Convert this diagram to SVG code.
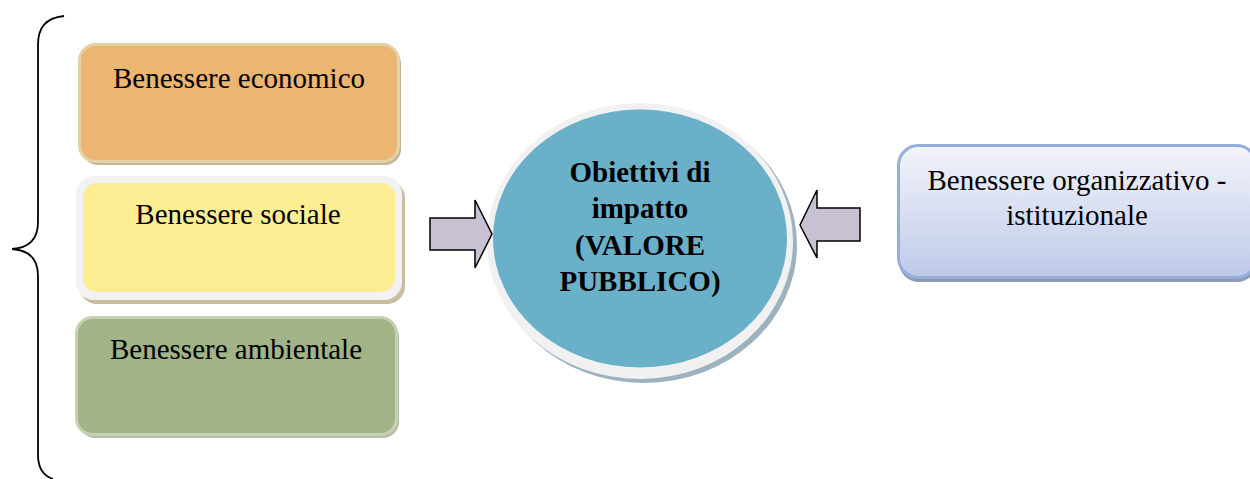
<svg xmlns="http://www.w3.org/2000/svg" width="1250" height="479" viewBox="0 0 1250 479" font-family="'Liberation Serif', 'Times New Roman', serif">
<defs>
<linearGradient id="gBlue" x1="0" y1="0" x2="0" y2="1">
<stop offset="0" stop-color="#F3F4FB"/>
<stop offset="1" stop-color="#BFCAE9"/>
</linearGradient>
</defs>
<style>
text{font-family:'Liberation Serif','Times New Roman',serif;font-size:29px;fill:#000;text-anchor:middle}
.b{font-weight:bold}
.arrow{fill:#C8C1D3;stroke:#000;stroke-width:1.5;stroke-linejoin:miter}
</style>
<rect width="1250" height="479" fill="#fff"/>
<g id="brace">
<path d="M64,16 C45,18 38,28 38,45 L38,222 C38,240 28,248 12,249 C28,250 38,258 38,276 L38,455 C38,468 44,476 53,479" fill="none" stroke="#000" stroke-width="1.8"/>
</g>
<g id="node-economico">
<rect x="82" y="48" width="319" height="117" rx="16" fill="#C4B597"/>
<rect x="79.5" y="44.5" width="319" height="117" rx="16" fill="#EBB572" stroke="#E3D2A6" stroke-width="3"/>
<text x="239" y="88">Benessere economico</text>
</g>
<g id="node-sociale">
<rect x="79" y="180" width="326" height="124" rx="18" fill="#C9BD9E"/>
<rect x="76" y="176" width="326" height="124" rx="18" fill="#F2F2F2"/>
<rect x="83" y="183" width="312" height="109" rx="14" fill="#FDEE94"/>
<text x="238" y="224">Benessere sociale</text>
</g>
<g id="node-ambientale">
<rect x="79" y="321" width="320" height="117" rx="16" fill="#B8BFA8"/>
<rect x="76.5" y="317.5" width="320" height="117" rx="16" fill="#A1B387" stroke="#C6D0B3" stroke-width="3"/>
<text x="236" y="359">Benessere ambientale</text>
</g>
<g id="node-valore">
<ellipse cx="644" cy="245" rx="153" ry="138" fill="#9DB2BF"/>
<ellipse cx="640" cy="241" rx="153" ry="138" fill="#F1F1F1"/>
<ellipse cx="640" cy="238.5" rx="147" ry="129" fill="#6AB0C9"/>
<text class="b" x="640" y="182">Obiettivi di</text>
<text class="b" x="640" y="218">impatto</text>
<text class="b" x="640" y="255">(VALORE</text>
<text class="b" x="640" y="291">PUBBLICO)</text>
</g>
<g id="node-organizzativo">
<rect x="899" y="149" width="358" height="133" rx="20" fill="#8F9AB2"/>
<rect x="898.5" y="145.5" width="358" height="132" rx="20" fill="url(#gBlue)" stroke="#95AEDC" stroke-width="3"/>
<text x="1077" y="190">Benessere organizzativo -</text>
<text x="1077" y="225">istituzionale</text>
</g>
<g id="connectors">
<path class="arrow" d="M430,218 L475,218 L475,200 L492,234 L475,268 L475,250 L430,250 Z"/>
<path class="arrow" d="M860,208 L817,208 L817,190 L800,225 L817,258 L817,241 L860,241 Z"/>
</g>
</svg>
